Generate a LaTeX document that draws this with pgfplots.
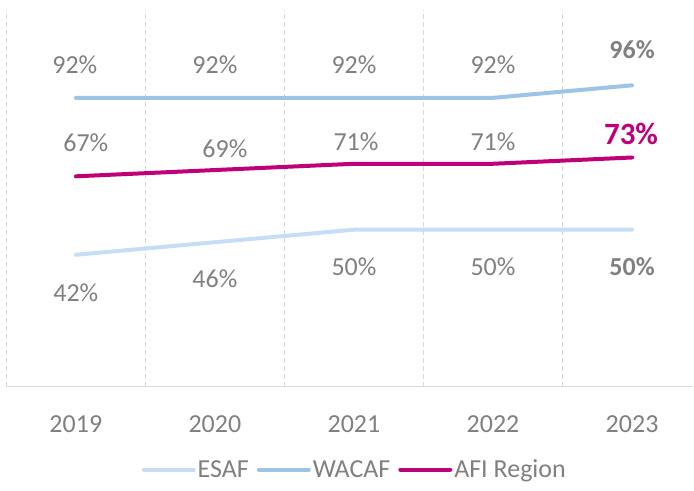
\documentclass[border=0pt]{standalone}
\usepackage{fontspec}
\setmainfont{Carlito}
\usepackage{pgfplots}
\pgfplotsset{compat=1.18}
\usepackage{pgfplotstable}
\usetikzlibrary{calc}
\definecolor{esafc}{HTML}{C5DEF6}
\definecolor{wacafc}{HTML}{9DC3E6}
\definecolor{afic}{HTML}{C00078}
\definecolor{txt}{HTML}{808080}
\definecolor{gridc}{HTML}{D9D9D9}

\pgfplotstableread{
x y dx dy
0 42 0 -38
1 46 0 -37
2 50 0 -37.5
3 50 0 -37.5
4 50 0 -37.5
}\tabesaf
\pgfplotstableread{
x y dx dy
0 92 -1 33
1 92 0 33
2 92 0 33
3 92 0 33
4 96 0 36
}\tabwacaf
\pgfplotstableread{
x y dx dy
0 67 10 34
1 69 10 21.5
2 71 2 22
3 71 0 22
4 73 -1 24
}\tabafi

\pgfplotsset{
  lbl/.style n args={3}{draw=none, forget plot, point meta=y,
    nodes near coords={\pgfmathprintnumber{\pgfplotspointmeta}\%},
    visualization depends on={\thisrow{dx}\as\mydx},
    visualization depends on={\thisrow{dy}\as\mydy},
    restrict x to domain=#1,
    every node near coord/.append style={anchor=center, xshift=\mydx pt, yshift=\mydy pt, font=#2, text=#3}},
}

\begin{document}
\begin{tikzpicture}
\begin{axis}[
  scale only axis, width=687.7pt, height=377pt,
  xmin=-0.5, xmax=4.44, ymin=0, ymax=120,
  axis y line=none, axis x line*=bottom,
  x axis line style={draw=gridc, line width=1.5pt, -},
  xtick={0,1,2,3,4}, xticklabels={2019,2020,2021,2022,2023},
  major tick length=0pt, minor tick length=0pt,
  minor xtick={-0.5,0.5,1.5,2.5,3.5},
  xminorgrids, minor grid style={gridc, dash pattern=on 5pt off 3pt, line width=0.8pt},
  xticklabel style={anchor=center, yshift=-38pt, font=\fontsize{26}{30}\selectfont, text=txt},
  /pgf/number format/assume math mode=true,
  legend style={at={(axis description cs:0.5,0)}, anchor=center, yshift=-83pt, xshift=5pt,
    draw=none, fill=none, legend columns=-1, font=\fontsize{26}{30}\selectfont, text=txt,
    /tikz/every even column/.append style={column sep=6pt}, nodes={inner sep=2pt}},
  legend image code/.code={\draw[#1, line width=4pt] (0pt,0pt) -- (50pt,0pt);},
]
\addplot[esafc, line width=4pt, line cap=round] table[x=x,y=y] {\tabesaf};
\addlegendentry{ESAF}
\addplot[wacafc, line width=4pt, line cap=round] table[x=x,y=y] {\tabwacaf};
\addlegendentry{WACAF}
\addplot[afic, line width=4pt, line cap=round] table[x=x,y=y] {\tabafi};
\addlegendentry{AFI Region}

\addplot[lbl={-1:3.5}{\fontsize{26}{30}\selectfont}{txt}] table[x=x,y=y] {\tabesaf};
\addplot[lbl={3.5:5}{\fontsize{26}{30}\selectfont\bfseries}{txt}] table[x=x,y=y] {\tabesaf};
\addplot[lbl={-1:3.5}{\fontsize{26}{30}\selectfont}{txt}] table[x=x,y=y] {\tabwacaf};
\addplot[lbl={3.5:5}{\fontsize{26}{30}\selectfont\bfseries}{txt}] table[x=x,y=y] {\tabwacaf};
\addplot[lbl={-1:3.5}{\fontsize{26}{30}\selectfont}{txt}] table[x=x,y=y] {\tabafi};
\addplot[lbl={3.5:5}{\fontsize{31}{36}\selectfont\bfseries}{afic}] table[x=x,y=y] {\tabafi};
\end{axis}
\path ($(current axis.south west)+(-6.3pt,-104pt)$) rectangle ($(current axis.north east)+(0pt,10pt)$);
\end{tikzpicture}
\end{document}
